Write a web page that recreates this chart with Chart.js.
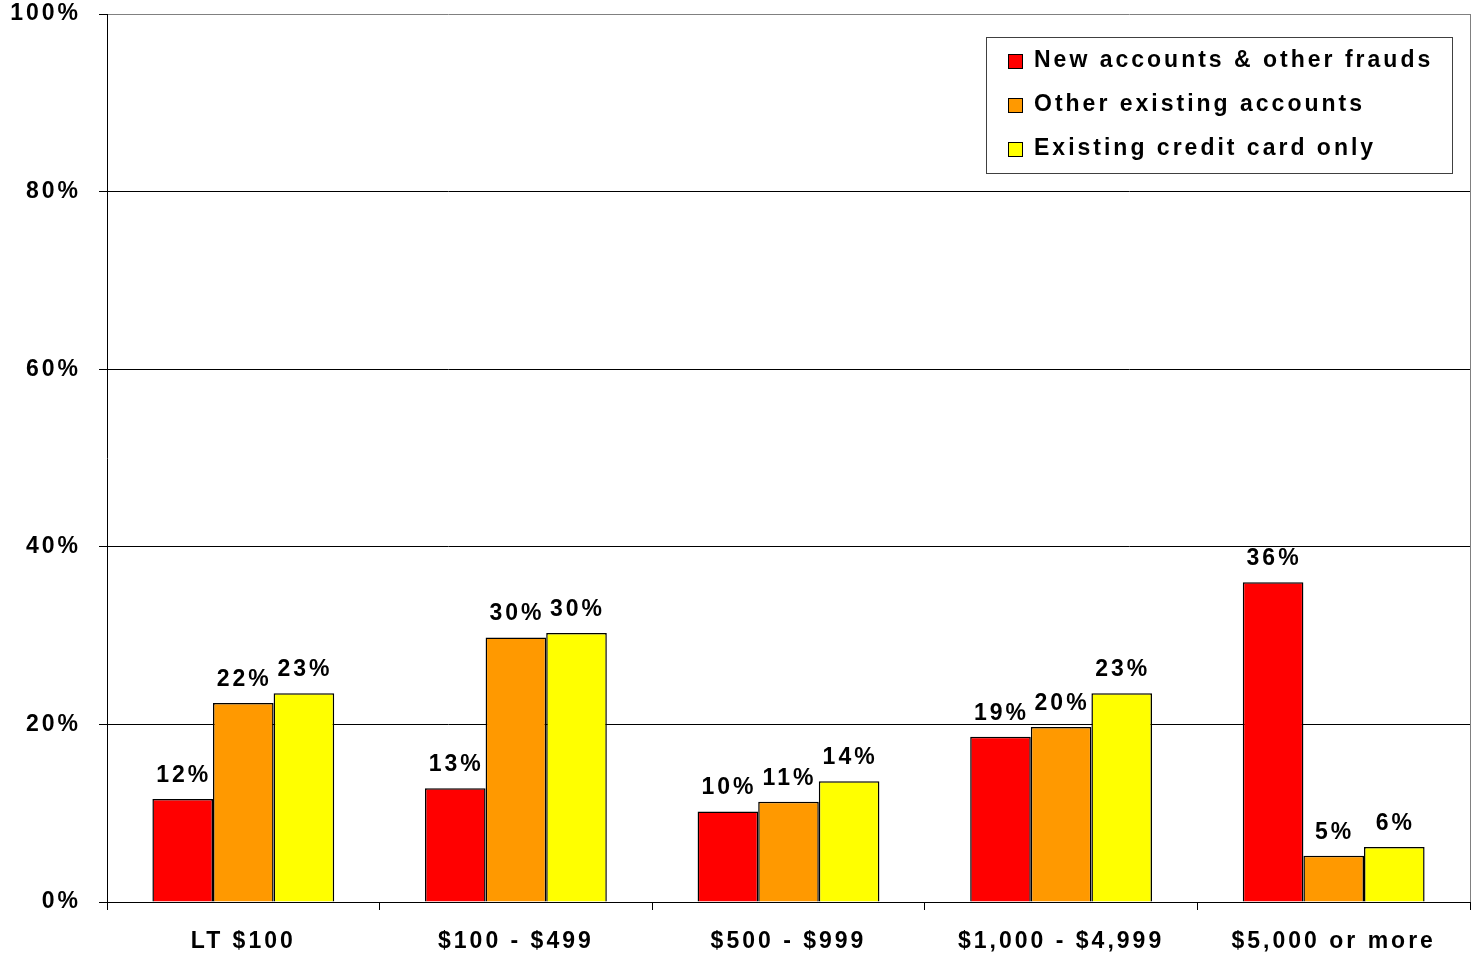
<!DOCTYPE html>
<html>
<head>
<meta charset="utf-8">
<script src="https://cdn.jsdelivr.net/npm/chart.js@4.4.1/dist/chart.umd.min.js"></script>
<style>
  html, body { margin: 0; padding: 0; background: #fff; }
  #wrap { width: 1474px; height: 955px; }
</style>
</head>
<body>
<div id="wrap"><canvas id="grafico"></canvas></div>
<script>
// categorias e valores (em %)
const categorias = ['LT $100', '$100 - $499', '$500 - $999', '$1,000 - $4,999', '$5,000 or more'];
const novasContas = [11.6, 12.8, 10.2, 18.6, 36.0];
const outrasContas = [22.4, 29.8, 11.3, 19.7, 5.2];
const cartaoCredito = [23.5, 30.3, 13.6, 23.5, 6.2];
const rotulosNovas = ['12%', '13%', '10%', '19%', '36%'];
const rotulosOutras = ['22%', '30%', '11%', '20%', '5%'];
const rotulosCartao = ['23%', '30%', '14%', '23%', '6%'];
const ticksY = [0, 20, 40, 60, 80, 100];

const FAMILIA = '"Liberation Sans", Arial, sans-serif';
const FONTE = 'bold 23px ' + FAMILIA;

// espaçamento entre letras (o canvas perde o estado quando é redimensionado)
const espacamento = {
    id: 'espacamento',
    beforeDraw(chart) {
        chart.ctx.letterSpacing = '3px';
    }
};

// borda direita cinza + rótulos das barras
const rotulos = {
    id: 'rotulos',
    beforeDatasetsDraw(chart) {
        const { ctx, chartArea } = chart;
        ctx.save();
        ctx.strokeStyle = '#808080';
        ctx.lineWidth = 1;
        ctx.beginPath();
        ctx.moveTo(Math.round(chartArea.right) + 0.5, chartArea.top);
        ctx.lineTo(Math.round(chartArea.right) + 0.5, chartArea.bottom);
        ctx.stroke();
        ctx.restore();
    },
    afterDatasetsDraw(chart) {
        const { ctx } = chart;
        const textos = [rotulosNovas, rotulosOutras, rotulosCartao];
        ctx.save();
        ctx.font = FONTE;
        ctx.letterSpacing = '3px';
        ctx.fillStyle = '#000';
        ctx.textAlign = 'center';
        ctx.textBaseline = 'alphabetic';
        chart.data.datasets.forEach((ds, i) => {
            chart.getDatasetMeta(i).data.forEach((bar, j) => {
                ctx.fillText(textos[i][j], bar.x + 1, bar.y - 17);
            });
        });
        ctx.restore();
    }
};

// legenda desenhada dentro da área do gráfico
const legenda = {
    id: 'legenda',
    afterDraw(chart) {
        const { ctx } = chart;
        ctx.save();
        ctx.fillStyle = '#fff';
        ctx.fillRect(986, 37, 466, 136);
        ctx.strokeStyle = '#404040';
        ctx.lineWidth = 1;
        ctx.strokeRect(986.5, 37.5, 466, 136);
        ctx.font = FONTE;
        ctx.letterSpacing = '3px';
        ctx.textBaseline = 'middle';
        ctx.textAlign = 'left';
        chart.data.datasets.forEach((ds, i) => {
            const y = 61 + i * 44;
            ctx.fillStyle = ds.backgroundColor;
            ctx.fillRect(1008, y - 7, 14, 14);
            ctx.strokeStyle = '#000';
            ctx.strokeRect(1008.5, y - 6.5, 14, 14);
            ctx.fillStyle = '#000';
            ctx.fillText(ds.label, 1034, y);
        });
        ctx.restore();
    }
};

const ctx = document.getElementById('grafico').getContext('2d');
new Chart(ctx, {
    type: 'bar',
    data: {
        labels: categorias,
        datasets: [
            { label: 'New accounts & other frauds', data: novasContas, backgroundColor: '#FF0000' },
            { label: 'Other existing accounts', data: outrasContas, backgroundColor: '#FF9900' },
            { label: 'Existing credit card only', data: cartaoCredito, backgroundColor: '#FFFF00' }
        ].map(ds => Object.assign(ds, {
            borderColor: '#000',
            borderWidth: 1.5,
            categoryPercentage: 0.667,
            barPercentage: 1
        }))
    },
    options: {
        responsive: true,
        maintainAspectRatio: false,
        animation: false,
        layout: { padding: { top: 14, right: 4, left: 0, bottom: 0 } },
        plugins: {
            legend: { display: false },
            tooltip: { enabled: false }
        },
        scales: {
            y: {
                min: 0,
                max: 100,
                afterFit(scale) {
                    scale.width = 107;
                    scale.paddingTop = 0;
                    scale.paddingBottom = 0;
                },
                afterBuildTicks(scale) { scale.ticks = ticksY.map(v => ({ value: v })); },
                ticks: {
                    callback: v => v + '%',
                    color: '#000',
                    font: { family: FAMILIA, size: 23, weight: 'bold' },
                    padding: 18
                },
                grid: {
                    color: c => c.tick && c.tick.value === 100 ? '#808080' : '#000',
                    lineWidth: 1,
                    tickLength: 8,
                    tickColor: '#000'
                },
                border: { color: '#000', width: 1 }
            },
            x: {
                afterFit(scale) {
                    scale.height = 53;
                    scale.paddingLeft = 0;
                    scale.paddingRight = 0;
                },
                ticks: {
                    color: '#000',
                    font: { family: FAMILIA, size: 23, weight: 'bold' },
                    padding: 18,
                    maxRotation: 0
                },
                grid: {
                    drawOnChartArea: false,
                    drawTicks: true,
                    tickLength: 8,
                    color: '#000'
                },
                border: { color: '#000', width: 1 }
            }
        }
    },
    plugins: [espacamento, rotulos, legenda]
});
</script>
</body>
</html>
